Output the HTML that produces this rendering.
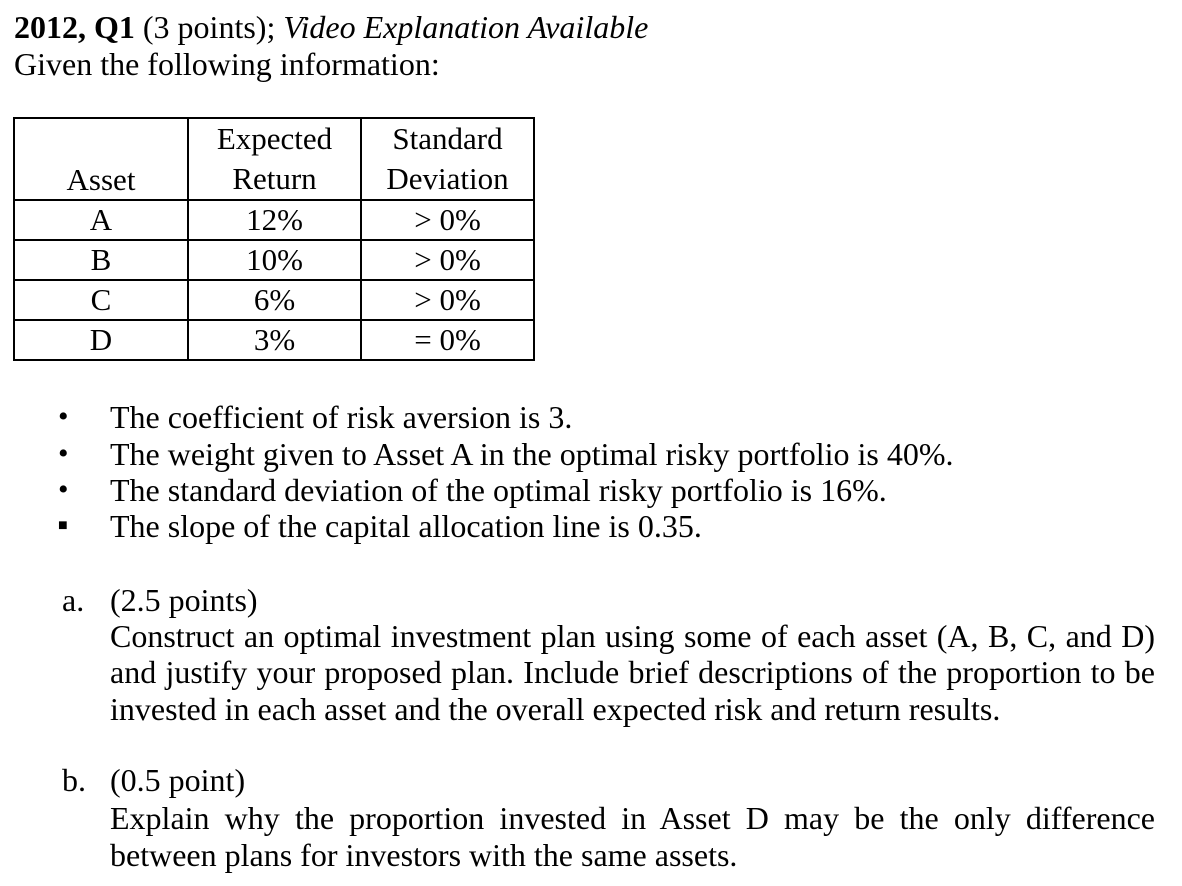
<!DOCTYPE html>
<html><head><meta charset="utf-8">
<style>
html,body{margin:0;padding:0;background:#fff;}
body{width:1182px;height:886px;position:relative;overflow:hidden;font-family:"Liberation Serif","Times New Roman",serif;font-size:32px;color:#000;}
.l{position:absolute;line-height:36px;white-space:nowrap;}
.j{white-space:normal;text-align:justify;text-align-last:justify;width:1045px;}
table{position:absolute;left:13px;top:117px;border-collapse:collapse;font-size:31px;}
td{border:2.5px solid #000;text-align:center;padding:0;line-height:38px;}
.b{position:absolute;left:58px;font-size:30px;line-height:36px;}
</style></head><body>
<div class="l" style="left:14px;top:9px"><b>2012, Q1</b> (3 points); <i>Video Explanation Available</i></div>
<div class="l" style="left:14px;top:46px">Given the following information:</div>
<table>
<tr style="height:82px"><td style="width:172px;vertical-align:bottom">Asset</td><td style="width:171px;line-height:40px">Expected<br>Return</td><td style="width:171px;line-height:40px">Standard<br>Deviation</td></tr>
<tr style="height:40px"><td>A</td><td>12%</td><td>&gt; 0%</td></tr>
<tr style="height:40px"><td>B</td><td>10%</td><td>&gt; 0%</td></tr>
<tr style="height:40px"><td>C</td><td>6%</td><td>&gt; 0%</td></tr>
<tr style="height:40px"><td>D</td><td>3%</td><td>= 0%</td></tr>
</table>
<div class="b" style="top:399px">•</div>
<div class="b" style="top:436px">•</div>
<div class="b" style="top:472px">•</div>
<div class="b" style="top:508px;font-size:16px">■</div>
<div class="l" style="left:110px;top:399px">The coefficient of risk aversion is 3.</div>
<div class="l" style="left:110px;top:436px">The weight given to Asset A in the optimal risky portfolio is 40%.</div>
<div class="l" style="left:110px;top:472px">The standard deviation of the optimal risky portfolio is 16%.</div>
<div class="l" style="left:110px;top:508px">The slope of the capital allocation line is 0.35.</div>
<div class="l" style="left:62px;top:582px">a.</div>
<div class="l" style="left:110px;top:582px">(2.5 points)</div>
<div class="l j" style="left:110px;top:618px">Construct an optimal investment plan using some of each asset (A, B, C, and D)</div>
<div class="l j" style="left:110px;top:654px">and justify your proposed plan. Include brief descriptions of the proportion to be</div>
<div class="l" style="left:110px;top:691px">invested in each asset and the overall expected risk and return results.</div>
<div class="l" style="left:62px;top:762px">b.</div>
<div class="l" style="left:110px;top:762px">(0.5 point)</div>
<div class="l j" style="left:110px;top:800px">Explain why the proportion invested in Asset D may be the only difference</div>
<div class="l" style="left:110px;top:837px">between plans for investors with the same assets.</div>
</body></html>
